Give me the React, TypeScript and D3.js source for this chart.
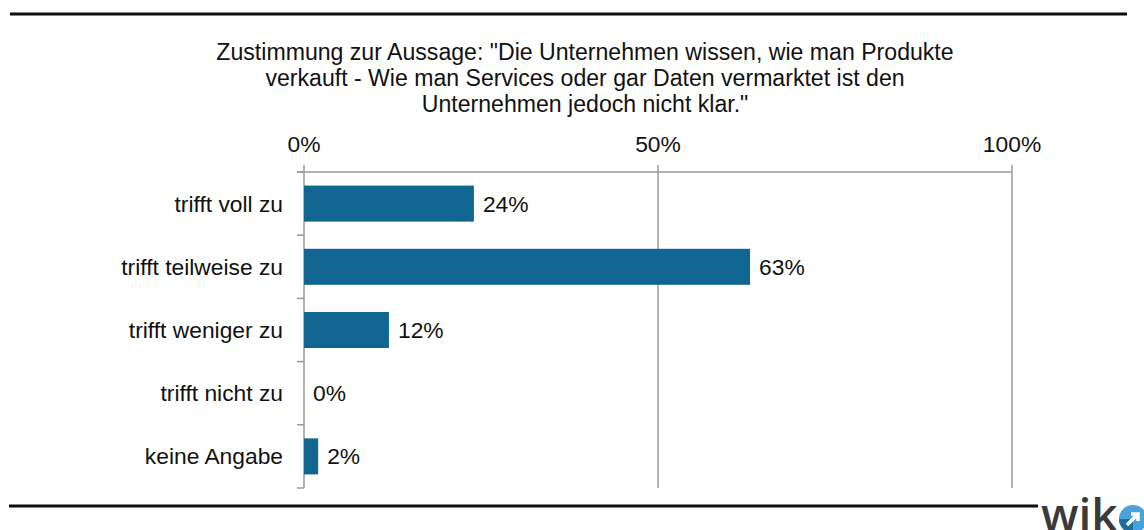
import React from "react";
import * as d3 from "d3";

const categories = ["trifft voll zu", "trifft teilweise zu", "trifft weniger zu", "trifft nicht zu", "keine Angabe"];
const values = [24, 63, 12, 0, 2];
const tickValues = [0, 50, 100];
const titleLines = [
  "Zustimmung zur Aussage: \"Die Unternehmen wissen, wie man Produkte",
  "verkauft - Wie man Services oder gar Daten vermarktet ist den",
  "Unternehmen jedoch nicht klar.\"",
];

const W = 1144;
const H = 530;
const FONT = "'Liberation Sans', Arial, sans-serif";
const BAR = "#106690";
const GRID = "#9a9a9a";
const FS = 22.8;

export default function App() {
  const x = d3.scaleLinear().domain([0, 100]).range([304, 1012]);
  const y = d3
    .scaleBand<string>()
    .domain(categories)
    .range([172, 488])
    .paddingInner(0.43)
    .paddingOuter(0.215);
  const step = y.step();
  const top = 172;
  const bottom = 488;
  const boundaries = d3.range(categories.length + 1).map((i) => top + i * step);

  return (
    <svg width={W} height={H} style={{ position: "absolute", left: 0, top: 0 }} fontFamily={FONT}>
      <rect width={W} height={H} fill="#fff" />
      {/* frame lines */}
      <line x1={10} x2={1127} y1={14} y2={14} stroke="#111" strokeWidth={3} />
      <line x1={9} x2={1038} y1={506} y2={506} stroke="#111" strokeWidth={3} />

      {/* title */}
      {titleLines.map((t, i) => (
        <text key={i} x={585} y={60 + i * 26} textAnchor="middle" fontSize={23.1} fill="#111">
          {t}
        </text>
      ))}

      {/* grid lines */}
      {tickValues.map((t) => (
        <g key={t}>
          <line x1={x(t)} x2={x(t)} y1={top - 7} y2={bottom} stroke={GRID} strokeWidth={1.5} />
          <text x={x(t)} y={152} textAnchor="middle" fontSize={FS} fill="#111">
            {t}%
          </text>
        </g>
      ))}
      {/* top axis */}
      <line x1={297} x2={x(100)} y1={top} y2={top} stroke={GRID} strokeWidth={1.5} />
      {/* left ticks */}
      {boundaries.map((b, i) => (
        <line key={i} x1={297} x2={x(0)} y1={b} y2={b} stroke={GRID} strokeWidth={1.5} />
      ))}

      {/* bars */}
      {categories.map((c, i) => (
        <g key={c}>
          <rect
            x={x(0)}
            y={y(c)!}
            width={x(values[i]) - x(0)}
            height={y.bandwidth()}
            fill={BAR}
          />
          <text
            x={x(values[i]) + 9}
            y={y(c)! + y.bandwidth() / 2 + 8}
            fontSize={FS}
            fill="#111"
          >
            {values[i]}%
          </text>
          <text
            x={283}
            y={y(c)! + y.bandwidth() / 2 + 8}
            textAnchor="end"
            fontSize={FS}
            fill="#111"
          >
            {c}
          </text>
        </g>
      ))}

      {/* logo */}
      <text x={1041} y={531} fontSize={46} fontFamily="'Open Sans', sans-serif" fontWeight={600} fill="#3a3a3a">
        wik
      </text>
      <g transform="translate(1133,519)">
        <circle r={14} fill="#4aa3d8" />
        <path d="M -14 0 A 14 14 0 0 0 0 14 L 0 0 Z" fill="#1d6e9c" />
        <path d="M -6 6 L 4 -4 M -2 -5 L 5 -5 L 5 2" stroke="#fff" strokeWidth={3.5} fill="none" />
      </g>
    </svg>
  );
}
